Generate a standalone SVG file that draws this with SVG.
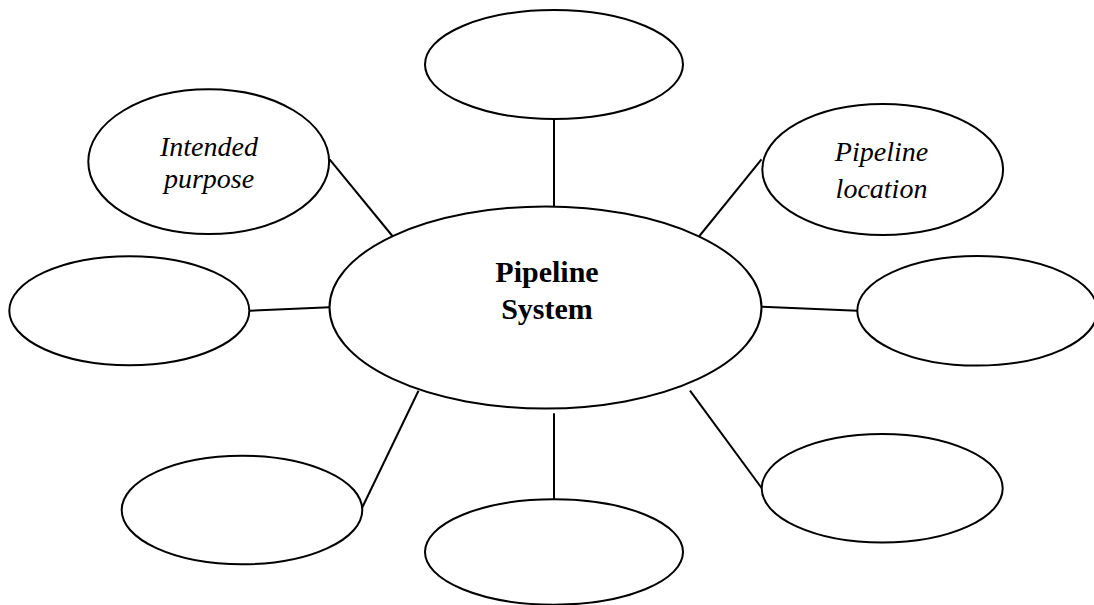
<svg xmlns="http://www.w3.org/2000/svg" width="1094" height="605" viewBox="0 0 1094 605">
<style>
.n{fill:#fff;stroke:#000;stroke-width:2}
.c line{stroke:#000;stroke-width:2}
.lbl{font-family:"Liberation Serif","Times New Roman",serif;font-style:italic;font-size:28px;fill:#000;text-anchor:middle}
.main{font-family:"Liberation Serif","Times New Roman",serif;font-weight:bold;font-size:30px;fill:#000;text-anchor:middle}
</style>
<rect width="1094" height="605" fill="#fff"/>
<g class="c" id="connectors">
<line x1="554" y1="119" x2="554" y2="207"/>
<line x1="329.6" y1="159.3" x2="392.4" y2="236"/>
<line x1="761.5" y1="159.3" x2="699.4" y2="236"/>
<line x1="249.4" y1="310.7" x2="329.6" y2="307.3"/>
<line x1="761.5" y1="306.7" x2="857.4" y2="310.7"/>
<line x1="418.5" y1="390.7" x2="362" y2="508"/>
<line x1="554" y1="413.3" x2="554" y2="499"/>
<line x1="690" y1="390.7" x2="761.6" y2="488"/>
</g>
<g id="center"><ellipse class="n" cx="545.5" cy="307.5" rx="216" ry="101"/>
<text class="main" x="547" y="282">Pipeline</text><text class="main" x="547" y="319">System</text></g>
<g id="top"><ellipse class="n" cx="554" cy="64.5" rx="129" ry="54.5"/></g>
<g id="intended"><ellipse class="n" cx="208.7" cy="161.7" rx="120.4" ry="72.4"/>
<text class="lbl" x="209" y="156">Intended</text><text class="lbl" x="209" y="188">purpose</text></g>
<g id="location"><ellipse class="n" cx="882.7" cy="169.5" rx="120.4" ry="65.5"/>
<text class="lbl" x="881.5" y="161">Pipeline</text><text class="lbl" x="881.5" y="198">location</text></g>
<g id="left"><ellipse class="n" cx="129.3" cy="310.7" rx="120" ry="54.5"/></g>
<g id="right"><ellipse class="n" cx="977.3" cy="310.8" rx="120" ry="54.8"/></g>
<g id="bottomleft"><ellipse class="n" cx="242" cy="510" rx="120.3" ry="54.3"/></g>
<g id="bottom"><ellipse class="n" cx="554" cy="552" rx="129" ry="52.7"/></g>
<g id="bottomright"><ellipse class="n" cx="882.2" cy="488.3" rx="120.5" ry="54.3"/></g>
</svg>
